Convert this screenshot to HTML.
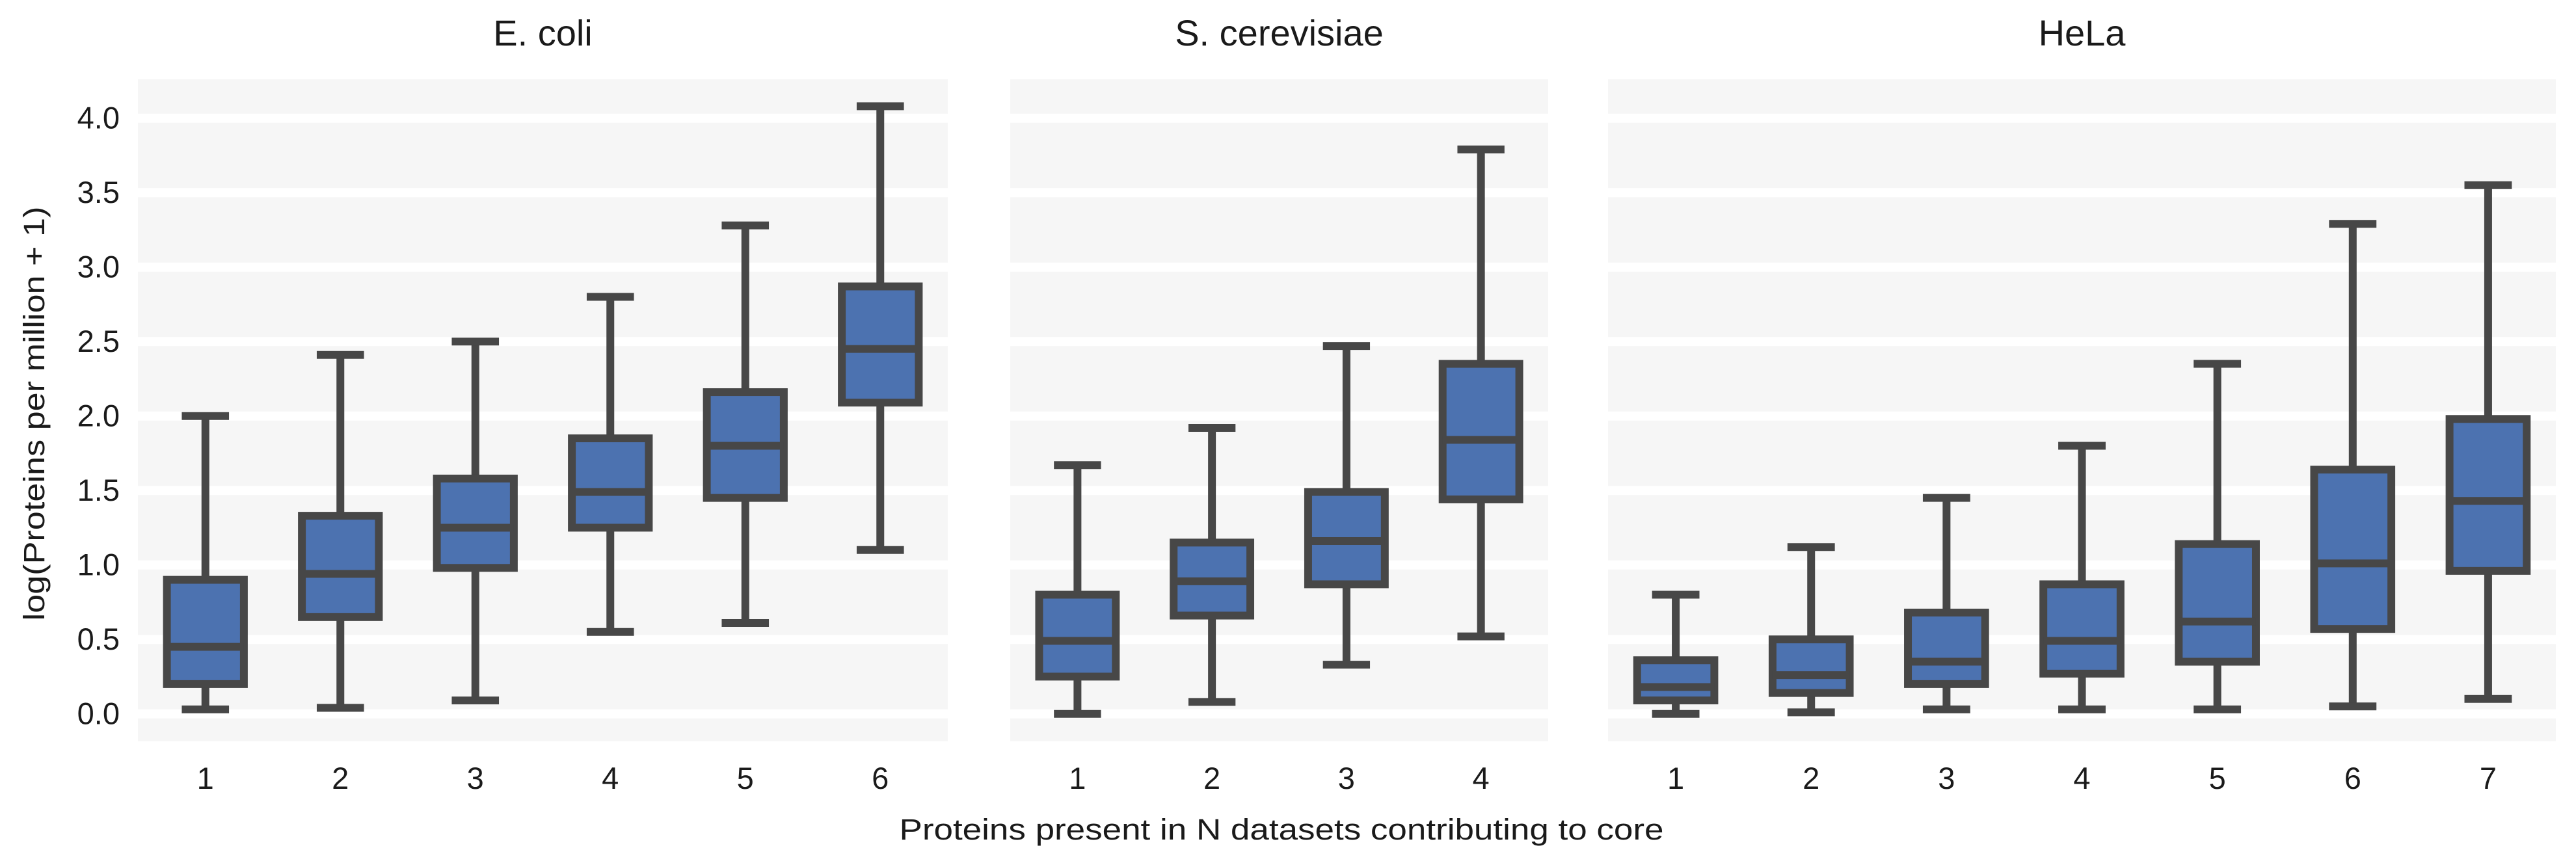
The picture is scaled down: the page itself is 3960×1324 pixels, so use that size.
<!DOCTYPE html>
<html><head><meta charset="utf-8"><style>html,body{margin:0;padding:0;background:#fff}svg{display:block}</style></head>
<body>
<svg id="chart" width="3960" height="1324" viewBox="0 0 3960 1324" xmlns="http://www.w3.org/2000/svg" font-family="'Liberation Sans', sans-serif" fill="#1a1a1a"></svg>
<script>
const ecoliCats = ["1","2","3","4","5","6"];
const ecoliLow = [0.03,0.04,0.09,0.55,0.61,1.10];
const ecoliQ1 = [0.20,0.65,0.98,1.25,1.45,2.09];
const ecoliMed = [0.45,0.94,1.25,1.49,1.80,2.45];
const ecoliQ3 = [0.90,1.33,1.58,1.85,2.16,2.87];
const ecoliHigh = [2.00,2.41,2.50,2.80,3.28,4.08];

const yeastCats = ["1","2","3","4"];
const yeastLow = [0.00,0.08,0.33,0.52];
const yeastQ1 = [0.25,0.66,0.87,1.44];
const yeastMed = [0.49,0.89,1.16,1.84];
const yeastQ3 = [0.80,1.15,1.49,2.35];
const yeastHigh = [1.67,1.92,2.47,3.79];

const helaCats = ["1","2","3","4","5","6","7"];
const helaLow = [0.00,0.01,0.03,0.03,0.03,0.05,0.10];
const helaQ1 = [0.09,0.14,0.20,0.27,0.35,0.57,0.96];
const helaMed = [0.18,0.26,0.35,0.49,0.62,1.01,1.43];
const helaQ3 = [0.36,0.50,0.68,0.87,1.14,1.64,1.98];
const helaHigh = [0.80,1.12,1.45,1.80,2.35,3.29,3.55];

const yTicks = [0,0.5,1.0,1.5,2.0,2.5,3.0,3.5,4.0];
const yTickLabels = ["0.0","0.5","1.0","1.5","2.0","2.5","3.0","3.5","4.0"];

const NS = "http://www.w3.org/2000/svg";
const svg = document.getElementById('chart');
function mk(tag, attrs, parent){const e=document.createElementNS(NS,tag);for(const k in attrs)e.setAttribute(k,attrs[k]);(parent||svg).appendChild(e);return e;}

const plotTop = 122, plotBottom = 1140;
const y0px = 1097.7, perUnit = 229;
function yScale(v){return y0px - v*perUnit;}

const panels = [
  {name:"E. coli", key:"ecoli", x0:212, x1:1457, cats:ecoliCats, low:ecoliLow, q1:ecoliQ1, med:ecoliMed, q3:ecoliQ3, high:ecoliHigh},
  {name:"S. cerevisiae", key:"s-cerevisiae", x0:1553, x1:2380, cats:yeastCats, low:yeastLow, q1:yeastQ1, med:yeastMed, q3:yeastQ3, high:yeastHigh},
  {name:"HeLa", key:"hela", x0:2472, x1:3929, cats:helaCats, low:helaLow, q1:helaQ1, med:helaMed, q3:helaQ3, high:helaHigh}
];

const stroke = "#474747", fill = "#4c72b0", sw = 12;

panels.forEach((p, pi) => {
  const g = mk('g', {});
  
  
  const bg = mk('rect', {x:p.x0, y:plotTop, width:p.x1-p.x0, height:plotBottom-plotTop, fill:'#f6f6f6'}, g);
  
  
  yTicks.forEach((t, i) => {
    const gl = mk('line', {x1:p.x0, x2:p.x1, y1:yScale(t), y2:yScale(t), stroke:'#ffffff', 'stroke-width':14}, g);
    
    
  });
  const band = (p.x1 - p.x0) / p.cats.length;
  function xScale(i){return p.x0 + band*(i+0.5);}
  const bw = band*0.57, cw = band*0.35;
  p.cats.forEach((c, i) => {
    const cx = xScale(i);
    const bg2 = mk('g', {}, g);
    
    
    mk('line', {x1:cx, x2:cx, y1:yScale(p.high[i]), y2:yScale(p.q3[i]), stroke:stroke, 'stroke-width':sw}, bg2);
    mk('line', {x1:cx, x2:cx, y1:yScale(p.q1[i]), y2:yScale(p.low[i]), stroke:stroke, 'stroke-width':sw}, bg2);
    mk('line', {x1:cx-cw/2, x2:cx+cw/2, y1:yScale(p.high[i]), y2:yScale(p.high[i]), stroke:stroke, 'stroke-width':sw}, bg2);
    mk('line', {x1:cx-cw/2, x2:cx+cw/2, y1:yScale(p.low[i]), y2:yScale(p.low[i]), stroke:stroke, 'stroke-width':sw}, bg2);
    mk('rect', {x:cx-bw/2, y:yScale(p.q3[i]), width:bw, height:yScale(p.q1[i])-yScale(p.q3[i]), fill:fill, stroke:stroke, 'stroke-width':sw}, bg2);
    mk('line', {x1:cx-bw/2, x2:cx+bw/2, y1:yScale(p.med[i]), y2:yScale(p.med[i]), stroke:stroke, 'stroke-width':sw}, bg2);
    const tl = mk('text', {x:cx, y:1213, 'text-anchor':'middle', 'font-size':47}, g);
    tl.textContent = c;
    
    
  });
  const title = mk('text', {x:(p.x0+p.x1)/2, y:70, 'text-anchor':'middle', 'font-size':56}, g);
  title.textContent = p.name;
  
  
  if (pi === 0) {
    yTicks.forEach((t, i) => {
      const yl = mk('text', {x:184, y:yScale(t)+16, 'text-anchor':'end', 'font-size':47}, g);
      yl.textContent = yTickLabels[i];
      
      
    });
  }
});

const yt = mk('text', {x:0, y:0, 'text-anchor':'middle', 'font-size':45, transform:'translate(68,636) rotate(-90)', textLength:637, lengthAdjust:'spacingAndGlyphs'});
yt.textContent = 'log(Proteins per million + 1)';



const xt = mk('text', {x:1970, y:1291, 'text-anchor':'middle', 'font-size':45, textLength:1175, lengthAdjust:'spacingAndGlyphs'});
xt.textContent = 'Proteins present in N datasets contributing to core';


</script>
</body></html>
